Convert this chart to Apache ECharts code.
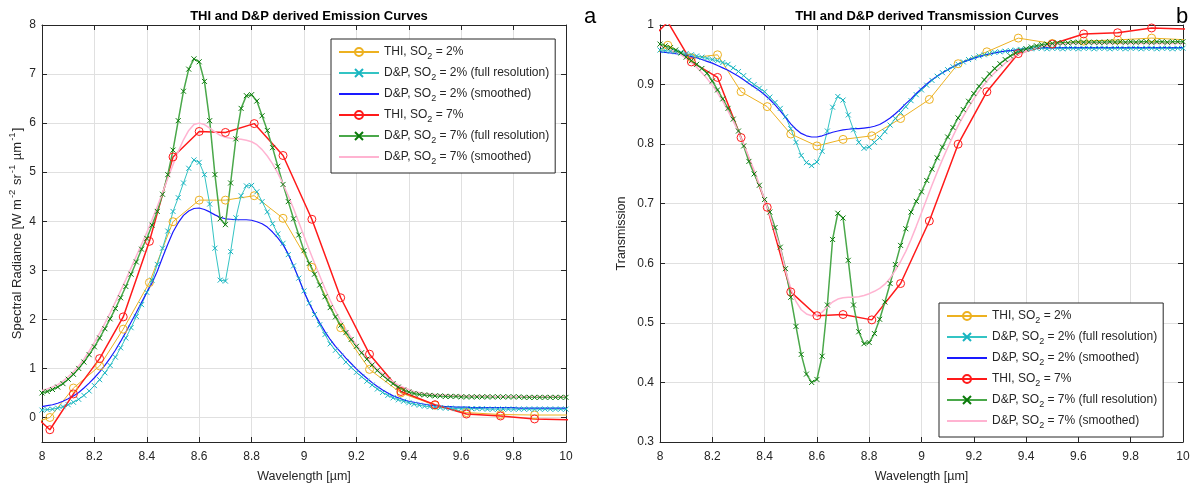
<!DOCTYPE html>
<html><head><meta charset="utf-8">
<script src="https://cdn.jsdelivr.net/npm/echarts@6/dist/echarts.min.js"></script>
<style>html,body{margin:0;padding:0;background:#fff}#c{width:1195px;height:488px}</style>
</head><body><div id="c"></div>
<script>
// ---------- data ----------
const WL = [8.00,8.02,8.04,8.06,8.08,8.10,8.12,8.14,8.16,8.18,
 8.20,8.22,8.24,8.26,8.28,8.30,8.32,8.34,8.36,8.38,
 8.40,8.42,8.44,8.46,8.48,8.50,8.52,8.54,8.56,8.58,
 8.60,8.62,8.64,8.66,8.68,8.70,8.72,8.74,8.76,8.78,
 8.80,8.82,8.84,8.86,8.88,8.90,8.92,8.94,8.96,8.98,
 9.00,9.02,9.04,9.06,9.08,9.10,9.12,9.14,9.16,9.18,
 9.20,9.22,9.24,9.26,9.28,9.30,9.32,9.34,9.36,9.38,
 9.40,9.42,9.44,9.46,9.48,9.50,9.52,9.54,9.56,9.58,
 9.60,9.62,9.64,9.66,9.68,9.70,9.72,9.74,9.76,9.78,
 9.80,9.82,9.84,9.86,9.88,9.90,9.92,9.94,9.96,9.98,
 10.00];
const WL_THI = [7.92,8.03,8.12,8.22,8.31,8.41,8.50,8.60,8.70,8.81,8.92,9.03,9.14,9.25,9.37,9.50,9.62,9.75,9.88,10.02];

// Emission (left)
const EM_THI_2 = [-0.20,0.00,0.60,1.05,1.80,2.75,3.99,4.43,4.43,4.52,4.06,3.06,1.83,0.98,0.50,0.25,0.10,0.06,0.05,0.05];
const EM_THI_7 = [0.30,-0.25,0.48,1.20,2.05,3.59,5.31,5.83,5.81,5.99,5.34,4.04,2.44,1.29,0.53,0.26,0.07,0.03,-0.03,-0.05];
const EM_DP_2_FULL = [0.15,0.16,0.17,0.19,0.22,0.26,0.31,0.37,0.45,0.54,
 0.65,0.77,0.91,1.06,1.23,1.42,1.62,1.83,2.06,2.30,
 2.55,2.80,3.12,3.45,3.80,4.20,4.48,4.78,5.08,5.25,
 5.20,4.95,4.35,3.45,2.80,2.78,3.38,4.07,4.52,4.72,
 4.73,4.60,4.40,4.19,3.95,3.74,3.55,3.32,3.09,2.84,
 2.58,2.33,2.10,1.89,1.69,1.50,1.37,1.25,1.13,1.02,
 0.92,0.83,0.74,0.66,0.58,0.51,0.45,0.40,0.36,0.33,
 0.30,0.27,0.25,0.23,0.22,0.21,0.20,0.19,0.19,0.18,
 0.18,0.18,0.18,0.18,0.18,0.17,0.17,0.17,0.17,0.17,
 0.17,0.17,0.17,0.17,0.17,0.17,0.17,0.17,0.17,0.17,
 0.17];
const EM_DP_2_SMOOTH = [0.22,0.24,0.26,0.29,0.33,0.38,0.44,0.51,0.60,0.70,
 0.81,0.93,1.06,1.21,1.37,1.55,1.74,1.94,2.14,2.35,
 2.55,2.74,2.98,3.26,3.53,3.78,3.97,4.12,4.21,4.26,
 4.27,4.24,4.19,4.13,4.08,4.05,4.04,4.03,4.03,4.03,
 4.02,3.99,3.95,3.88,3.78,3.66,3.52,3.33,3.09,2.83,
 2.56,2.33,2.12,1.93,1.75,1.59,1.45,1.33,1.21,1.10,
 0.99,0.89,0.80,0.71,0.63,0.56,0.50,0.44,0.40,0.36,
 0.33,0.31,0.29,0.27,0.25,0.24,0.23,0.22,0.22,0.21,
 0.21,0.21,0.20,0.20,0.20,0.20,0.20,0.20,0.20,0.20,
 0.20,0.19,0.19,0.19,0.19,0.19,0.19,0.19,0.19,0.19,
 0.19];
const EM_DP_7_FULL = [0.50,0.53,0.57,0.62,0.69,0.78,0.88,1.00,1.13,1.28,
 1.44,1.62,1.81,2.01,2.22,2.44,2.67,2.92,3.17,3.43,
 3.65,3.92,4.20,4.55,4.95,5.45,6.05,6.65,7.10,7.31,
 7.25,6.85,6.05,4.95,4.05,3.93,4.78,5.68,6.30,6.56,
 6.58,6.45,6.15,5.85,5.50,5.12,4.75,4.40,4.05,3.72,
 3.40,3.14,2.92,2.70,2.46,2.24,2.05,1.88,1.73,1.59,
 1.45,1.32,1.19,1.07,0.96,0.86,0.77,0.69,0.62,0.56,
 0.52,0.49,0.47,0.46,0.45,0.44,0.44,0.43,0.43,0.43,
 0.42,0.42,0.42,0.42,0.42,0.42,0.42,0.42,0.42,0.42,
 0.42,0.42,0.41,0.41,0.41,0.41,0.41,0.41,0.41,0.41,
 0.41];
const EM_DP_7_SMOOTH = [0.55,0.58,0.62,0.67,0.74,0.83,0.93,1.05,1.19,1.35,
 1.53,1.72,1.92,2.13,2.35,2.58,2.81,3.05,3.29,3.53,
 3.77,4.03,4.30,4.58,4.87,5.15,5.42,5.66,5.85,5.97,
 6.00,5.97,5.90,5.82,5.75,5.71,5.69,5.68,5.67,5.65,
 5.62,5.56,5.46,5.33,5.17,4.98,4.76,4.52,4.26,3.98,
 3.70,3.42,3.15,2.89,2.63,2.39,2.17,1.97,1.79,1.63,
 1.48,1.34,1.21,1.09,0.98,0.89,0.80,0.73,0.66,0.61,
 0.57,0.53,0.51,0.49,0.48,0.47,0.46,0.46,0.45,0.45,
 0.45,0.44,0.44,0.44,0.44,0.44,0.43,0.43,0.43,0.43,
 0.43,0.43,0.43,0.43,0.43,0.43,0.43,0.43,0.43,0.43,
 0.43];

// Transmission (right)
const TR_THI_2 = [0.930,0.966,0.945,0.950,0.888,0.863,0.817,0.797,0.808,0.814,0.843,0.875,0.935,0.955,0.978,0.969,0.973,0.975,0.978,0.975];
const TR_THI_7 = [0.957,1.005,0.938,0.912,0.811,0.694,0.552,0.512,0.514,0.505,0.566,0.671,0.800,0.888,0.952,0.968,0.985,0.987,0.995,0.993];
const TR_DP_2_FULL = [0.958,0.957,0.956,0.955,0.954,0.952,0.950,0.948,0.946,0.944,
 0.942,0.940,0.937,0.934,0.928,0.922,0.915,0.907,0.900,0.894,
 0.888,0.879,0.870,0.860,0.846,0.826,0.803,0.781,0.769,0.764,
 0.770,0.788,0.822,0.862,0.880,0.874,0.849,0.824,0.803,0.793,
 0.795,0.803,0.811,0.821,0.832,0.843,0.853,0.863,0.873,0.883,
 0.891,0.899,0.907,0.914,0.920,0.925,0.930,0.934,0.938,0.942,
 0.945,0.948,0.950,0.952,0.954,0.955,0.956,0.957,0.958,0.959,
 0.960,0.960,0.961,0.961,0.960,0.961,0.961,0.960,0.961,0.961,
 0.960,0.961,0.961,0.960,0.961,0.961,0.960,0.961,0.961,0.960,
 0.961,0.961,0.960,0.961,0.961,0.960,0.961,0.961,0.960,0.961,
 0.961];
const TR_DP_2_SMOOTH = [0.955,0.954,0.953,0.952,0.951,0.949,0.947,0.945,0.942,0.939,
 0.936,0.932,0.928,0.924,0.919,0.914,0.908,0.902,0.896,0.890,
 0.883,0.875,0.866,0.856,0.845,0.834,0.825,0.818,0.814,0.812,
 0.812,0.814,0.817,0.820,0.822,0.824,0.825,0.826,0.826,0.827,
 0.828,0.830,0.833,0.838,0.844,0.851,0.859,0.868,0.876,0.885,
 0.893,0.901,0.908,0.914,0.920,0.925,0.930,0.934,0.938,0.941,
 0.944,0.947,0.949,0.951,0.953,0.955,0.956,0.957,0.958,0.959,
 0.960,0.961,0.961,0.962,0.962,0.962,0.962,0.962,0.962,0.962,
 0.962,0.962,0.962,0.962,0.962,0.962,0.962,0.962,0.962,0.962,
 0.962,0.962,0.962,0.962,0.962,0.962,0.962,0.962,0.962,0.962,
 0.962];
const TR_DP_7_FULL = [0.968,0.965,0.962,0.958,0.953,0.946,0.940,0.934,0.927,0.919,
 0.906,0.891,0.876,0.860,0.842,0.822,0.797,0.771,0.750,0.731,
 0.707,0.686,0.660,0.627,0.591,0.543,0.494,0.447,0.414,0.400,
 0.405,0.444,0.530,0.640,0.684,0.676,0.605,0.530,0.485,0.465,
 0.467,0.482,0.506,0.535,0.566,0.598,0.630,0.658,0.686,0.704,
 0.720,0.739,0.758,0.777,0.795,0.812,0.828,0.844,0.858,0.872,
 0.885,0.897,0.908,0.918,0.927,0.935,0.942,0.948,0.953,0.957,
 0.960,0.963,0.965,0.967,0.968,0.969,0.970,0.970,0.970,0.971,
 0.971,0.971,0.971,0.971,0.971,0.971,0.972,0.971,0.972,0.971,
 0.972,0.971,0.972,0.972,0.971,0.972,0.972,0.971,0.972,0.972,
 0.972];
const TR_DP_7_SMOOTH = [0.965,0.962,0.958,0.954,0.950,0.944,0.937,0.929,0.920,0.910,
 0.899,0.886,0.872,0.856,0.839,0.820,0.800,0.778,0.756,0.732,
 0.707,0.681,0.653,0.625,0.588,0.558,0.536,0.522,0.515,0.512,
 0.513,0.518,0.527,0.535,0.540,0.542,0.543,0.543,0.544,0.546,
 0.549,0.553,0.558,0.565,0.575,0.588,0.603,0.620,0.640,0.662,
 0.685,0.708,0.731,0.753,0.774,0.794,0.813,0.831,0.847,0.862,
 0.876,0.889,0.900,0.911,0.920,0.928,0.936,0.942,0.948,0.952,
 0.956,0.959,0.962,0.964,0.966,0.967,0.968,0.968,0.969,0.969,
 0.969,0.969,0.969,0.969,0.969,0.969,0.969,0.969,0.969,0.969,
 0.969,0.969,0.969,0.969,0.969,0.969,0.969,0.969,0.969,0.969,
 0.969];

const X_TICKS_MIN = 8, X_TICKS_MAX = 10, X_STEP = 0.2;
const NAMES = ['THI, SO2 = 2%','D&P, SO2 = 2% (full resolution)','D&P, SO2 = 2% (smoothed)',
               'THI, SO2 = 7%','D&P, SO2 = 7% (full resolution)','D&P, SO2 = 7% (smoothed)'];

// ---------- styling ----------
const FONT = '"Liberation Sans", Arial, Helvetica, sans-serif';
const TXT = '#262626';
const GRIDC = '#e0e0e0';
const C_ORANGE = '#EDB120', C_CYAN = '#33c4c4', C_CYAN_M = '#19b4c2', C_BLUE = '#1a1aff',
      C_RED = '#ff1a1a', C_GREEN = '#4aa84a', C_GREEN_M = '#0a7a0a', C_PINK = '#ffb3d1';
const XMARK = 'path://M0,0L10,10M10,0L0,10';
const CLEAR = 'rgba(0,0,0,0)';

function pairs(xs, ys) { return xs.map((x, i) => [x, ys[i]]); }

function thi(name, g, ys, color, lw) {
  return { name, type: 'line', xAxisIndex: g * 2, yAxisIndex: g * 2, data: pairs(WL_THI, ys),
    symbol: 'circle', symbolSize: 8, clip: true, z: 3,
    lineStyle: { color, width: lw }, itemStyle: { color: CLEAR, borderColor: color, borderWidth: 1 } };
}
function full(name, g, ys, color, mcolor, lw) {
  return { name, type: 'line', xAxisIndex: g * 2, yAxisIndex: g * 2, data: pairs(WL, ys),
    symbol: XMARK, symbolSize: 5, clip: true, z: 3,
    lineStyle: { color, width: lw }, itemStyle: { color: CLEAR, borderColor: mcolor, borderWidth: 1 } };
}
function smooth(name, g, ys, color, lw) {
  return { name, type: 'line', xAxisIndex: g * 2, yAxisIndex: g * 2, data: pairs(WL, ys),
    symbol: 'none', clip: true, z: 3,
    lineStyle: { color, width: lw }, itemStyle: { color: CLEAR, borderColor: CLEAR, borderWidth: 0 } };
}

function xAxes(g) {
  const base = { gridIndex: g, type: 'value', min: X_TICKS_MIN, max: X_TICKS_MAX, interval: X_STEP };
  return [
    Object.assign({}, base, { position: 'bottom',
      axisLine: { show: true, onZero: false, lineStyle: { color: TXT, width: 1 } },
      axisTick: { show: true, inside: true, length: 5, lineStyle: { color: TXT } },
      axisLabel: { color: TXT, fontSize: 12, fontFamily: FONT, margin: 9 },
      splitLine: { show: true, lineStyle: { color: GRIDC, width: 1 } },
      name: 'Wavelength [µm]', nameLocation: 'middle', nameGap: 28,
      nameTextStyle: { color: TXT, fontSize: 12.5, fontFamily: FONT } }),
    Object.assign({}, base, { position: 'top',
      axisLine: { show: true, onZero: false, lineStyle: { color: TXT, width: 1 } },
      axisTick: { show: true, inside: true, length: 5, lineStyle: { color: TXT } },
      axisLabel: { show: false }, splitLine: { show: false } })
  ];
}

const supRich = {
  t: { fontSize: 13, fontFamily: FONT, color: TXT, lineHeight: 20 },
  p: { fontSize: 9.5, fontFamily: FONT, color: TXT, lineHeight: 11, verticalAlign: 'top', padding: [0, 1, 0, 1] }
};

const option = {
  backgroundColor: '#fff',
  animation: false,
  title: [
    { text: 'THI and D&P derived Emission Curves', left: 304, top: 5, textAlign: 'center',
      textStyle: { fontSize: 13, fontWeight: 'bold', color: '#000', fontFamily: FONT } },
    { text: 'THI and D&P derived Transmission Curves', left: 922, top: 5, textAlign: 'center',
      textStyle: { fontSize: 13, fontWeight: 'bold', color: '#000', fontFamily: FONT } },
    { text: 'a', left: 579, top: 1, textStyle: { fontSize: 22, fontWeight: 'normal', color: '#000', fontFamily: FONT } },
    { text: 'b', left: 1171, top: 1, textStyle: { fontSize: 22, fontWeight: 'normal', color: '#000', fontFamily: FONT } }
  ],
  grid: [
    { left: 42, top: 25, width: 524, height: 421 },
    { left: 660, top: 25, width: 523, height: 420 }
  ],
  xAxis: [].concat(xAxes(0), xAxes(1)),
  yAxis: [
    { gridIndex: 0, type: 'value', min: -0.5, max: 8, minInterval: 1, maxInterval: 1, splitNumber: 9, position: 'left',
      axisLine: { show: true, onZero: false, lineStyle: { color: TXT, width: 1 } },
      axisTick: { show: true, inside: true, length: 5, lineStyle: { color: TXT } },
      axisLabel: { color: TXT, fontSize: 12, fontFamily: FONT, margin: 6, showMinLabel: false,
                   formatter: v => (v < 0 ? '' : String(v)) },
      splitLine: { show: true, lineStyle: { color: GRIDC, width: 1 } },
      name: '{t|Spectral Radiance [W m}{p|-2}{t| sr}{p|-1}{t| µm}{p|-1}{t|]}',
      nameLocation: 'middle', nameGap: 15, nameTextStyle: { rich: supRich } },
    { gridIndex: 0, type: 'value', min: -0.5, max: 8, minInterval: 1, maxInterval: 1, splitNumber: 9, position: 'right',
      axisLine: { show: true, onZero: false, lineStyle: { color: TXT, width: 1 } },
      axisTick: { show: true, inside: true, length: 5, lineStyle: { color: TXT } },
      axisLabel: { show: false }, splitLine: { show: false } },
    { gridIndex: 1, type: 'value', min: 0.3, max: 1, interval: 0.1, position: 'left',
      axisLine: { show: true, onZero: false, lineStyle: { color: TXT, width: 1 } },
      axisTick: { show: true, inside: true, length: 5, lineStyle: { color: TXT } },
      axisLabel: { color: TXT, fontSize: 12, fontFamily: FONT, margin: 6 },
      splitLine: { show: true, lineStyle: { color: GRIDC, width: 1 } },
      name: 'Transmission', nameLocation: 'middle', nameGap: 32,
      nameTextStyle: { color: TXT, fontSize: 12.5, fontFamily: FONT } },
    { gridIndex: 1, type: 'value', min: 0.3, max: 1, interval: 0.1, position: 'right',
      axisLine: { show: true, onZero: false, lineStyle: { color: TXT, width: 1 } },
      axisTick: { show: true, inside: true, length: 5, lineStyle: { color: TXT } },
      axisLabel: { show: false }, splitLine: { show: false } }
  ],
  legend: [0, 1].map(g => ({
    data: NAMES, orient: 'vertical', left: g === 0 ? 331 : 939, top: g === 0 ? 39 : 303,
    itemWidth: 40, itemHeight: 10, itemGap: 6, padding: [7, 6, 7, 7],
    backgroundColor: '#fff', borderColor: TXT, borderWidth: 1, borderRadius: 0,
    selectedMode: false, z: 10,
    formatter: name => name.replace(/^(.*?SO)2(.*)$/, '{t|$1}{s|2}{t|$2}'),
    textStyle: { color: TXT, fontSize: 12, fontFamily: FONT,
      rich: { t: { fontSize: 12, fontFamily: FONT, color: TXT, lineHeight: 18 },
              s: { fontSize: 9, fontFamily: FONT, color: TXT, lineHeight: 9, verticalAlign: 'bottom' } } }
  })),
  series: [
    thi(NAMES[0], 0, EM_THI_2, C_ORANGE, 1),
    full(NAMES[1], 0, EM_DP_2_FULL, C_CYAN, C_CYAN_M, 1),
    smooth(NAMES[2], 0, EM_DP_2_SMOOTH, C_BLUE, 1.2),
    thi(NAMES[3], 0, EM_THI_7, C_RED, 1.5),
    full(NAMES[4], 0, EM_DP_7_FULL, C_GREEN, C_GREEN_M, 1.5),
    smooth(NAMES[5], 0, EM_DP_7_SMOOTH, C_PINK, 1.5),
    thi(NAMES[0], 1, TR_THI_2, C_ORANGE, 1),
    full(NAMES[1], 1, TR_DP_2_FULL, C_CYAN, C_CYAN_M, 1),
    smooth(NAMES[2], 1, TR_DP_2_SMOOTH, C_BLUE, 1.2),
    thi(NAMES[3], 1, TR_THI_7, C_RED, 1.5),
    full(NAMES[4], 1, TR_DP_7_FULL, C_GREEN, C_GREEN_M, 1.5),
    smooth(NAMES[5], 1, TR_DP_7_SMOOTH, C_PINK, 1.5)
  ]
};

const chart = echarts.init(document.getElementById('c'), null, { renderer: 'canvas' });
chart.setOption(option);
</script>
</body></html>
